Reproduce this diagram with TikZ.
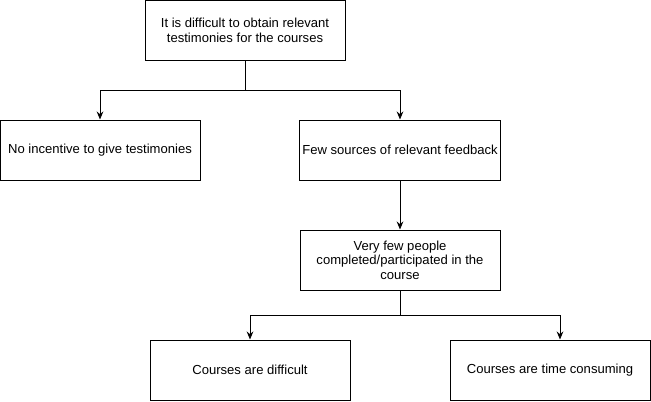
\documentclass[tikz,border=0pt]{standalone}
\usepackage{fontspec}
\setmainfont{Liberation Sans}
\usetikzlibrary{arrows.meta}
\tikzset{
  causebox/.style={draw, line width=0.75pt, minimum width=150pt, minimum height=45pt,
    align=center, inner sep=2pt, font=\fontsize{9.8}{11}\selectfont},
  link/.style={line width=0.75pt, -{Stealth[length=6pt,width=5pt]}}
}
\begin{document}
\begin{tikzpicture}[x=0.75pt,y=-0.75pt]
    \useasboundingbox (0,0) rectangle (651,401);
      \node[causebox] (problem) at (245,30) {It is difficult to obtain relevant\\testimonies for the courses};
      \node[causebox] (incentive) at (100,150) {No incentive to give testimonies};
      \node[causebox] (sources) at (400,150) {Few sources of relevant feedback};
      \node[causebox] (people) at (400,260) {Very few people\\completed/participated in the\\course};
      \node[causebox] (difficult) at (250,370) {Courses are difficult};
      \node[causebox] (timeconsuming) at (550,370) {Courses are time consuming};
      \draw[link] (problem.south) -- ++(0,30) -| (incentive.north);
      \draw[link] (problem.south) -- ++(0,30) -| (sources.north);
      \draw[link] (sources) -- (people);
      \draw[link] (people.south) -- ++(0,25) -| (difficult.north);
      \draw[link] (people.south) -- ++(0,25) -| ([xshift=10*0.75pt]timeconsuming.north);
    \end{tikzpicture}
\end{document}
